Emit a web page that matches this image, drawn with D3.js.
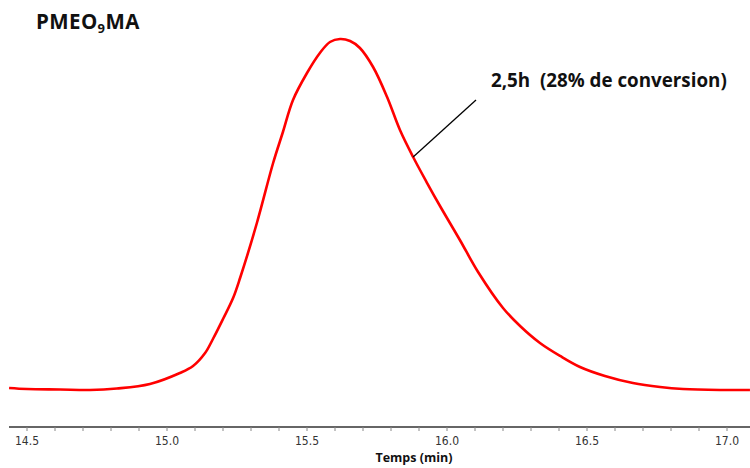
<!DOCTYPE html>
<html><head><meta charset="utf-8">
<script src="https://cdn.jsdelivr.net/npm/d3@7"></script>
<style>html,body{margin:0;padding:0;background:#fff;}svg{display:block;}</style>
</head><body>
<svg id="c" width="750" height="468"></svg>
<script>
// Elution time (min)
const times = [14.436,14.500,14.618,14.725,14.821,14.939,15.046,15.093,15.136,15.164,15.200,15.236,15.261,15.321,15.379,15.414,15.450,15.500,15.546,15.582,15.618,15.654,15.689,15.736,15.786,15.832,15.879,15.929,15.975,16.046,16.111,16.200,16.261,16.332,16.404,16.475,16.564,16.664,16.761,16.843,16.975,17.082];
// Detector signal (normalised, peak = 100)
const signal = [0.57,0.28,0.14,0,0.43,1.71,4.84,6.84,10.54,14.53,20.23,26.21,31.91,47.58,64.67,73.50,82.62,90.31,96.01,99.15,100,99.43,97.44,92.02,83.48,74.07,66.38,58.97,52.42,42.74,33.62,23.36,18.23,13.39,9.69,6.55,3.99,1.99,0.85,0.28,0,0];
const majorTicks = [14.5,15.0,15.5,16.0,16.5,17.0];
const minorTicks = d3.range(145,171).map(d=>d/10);
const title = "PMEO";
const titleSub = "9";
const titleEnd = "MA";
const annotation = "2,5h  (28% de conversion)";
const annotationTime = 15.879;
const annotationSignal = 66.38;
const xLabel = "Temps (min)";

const svg = d3.select("#c");
const x = d3.scaleLinear().domain([14.5,17.0]).range([27,727]);
const y = d3.scaleLinear().domain([0,100]).range([390,39]);

// axis
const axisY = 427;
const ax = svg.append("g").attr("transform",`translate(0,${axisY})`);
ax.append("line").attr("x1",9).attr("x2",750).attr("y1",0).attr("y2",0)
  .attr("stroke","#666").attr("stroke-width",2);
ax.selectAll(".mt").data(minorTicks).join("line")
  .attr("x1",d=>x(d)).attr("x2",d=>x(d)).attr("y1",0).attr("y2",4)
  .attr("stroke","#888").attr("stroke-width",1);
ax.selectAll(".lb").data(majorTicks).join("text")
  .attr("x",d=>x(d)).attr("y",18).attr("text-anchor","middle")
  .attr("font-family","DejaVu Sans Condensed, DejaVu Sans, sans-serif").attr("font-size",12)
  .attr("fill","#333").text(d=>d.toFixed(1));
svg.append("text").attr("x",414).attr("y",462).attr("text-anchor","middle")
  .attr("font-family","Open Sans, sans-serif").attr("font-weight","bold").attr("font-size",12.5)
  .attr("fill","#111").text(xLabel);

// curve
const data = times.map((t,i)=>({t, s:signal[i]}));
svg.append("path").datum(data)
  .attr("d", d3.line().x(d=>x(d.t)).y(d=>y(d.s)).curve(d3.curveCatmullRom.alpha(0.5)))
  .attr("fill","none").attr("stroke","#ff0000").attr("stroke-width",2.6).attr("stroke-linejoin","round");

// annotation
svg.append("line").attr("x1",x(annotationTime)).attr("y1",y(annotationSignal))
  .attr("x2",476).attr("y2",100).attr("stroke","#000").attr("stroke-width",1.3);
svg.append("text").attr("x",491).attr("y",87)
  .attr("font-family","Open Sans, sans-serif").attr("font-weight","bold").attr("font-size",18.8)
  .attr("fill","#111").attr("xml:space","preserve").style("white-space","pre").text(annotation);

// title
const tt = svg.append("text").attr("x",36).attr("y",29)
  .attr("font-family","Open Sans, sans-serif").attr("font-weight","bold").attr("font-size",20.5)
  .attr("letter-spacing",0.4).attr("fill","#111");
tt.append("tspan").text(title);
tt.append("tspan").attr("font-size",13).attr("dy",4).text(titleSub);
tt.append("tspan").attr("dy",-4).text(titleEnd);
</script>
</body></html>
